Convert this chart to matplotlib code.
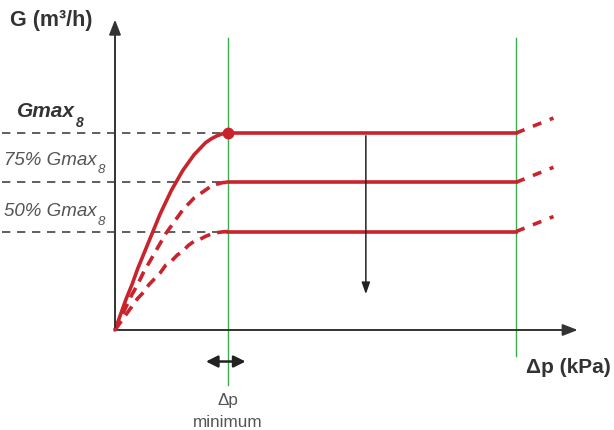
import matplotlib
matplotlib.use('Agg')
import matplotlib.pyplot as plt

plt.rcParams['font.family'] = ['Liberation Sans', 'DejaVu Sans']

# flow levels as fraction of Gmax8
levels = [1.0, 0.75, 0.5]
level_names = ['Gmax', '75% Gmax', '50% Gmax']
# x in units of dp minimum
dp_min = 1.0
dp_max = 3.55
ext_x = [3.55, 3.88]
ext_rise = 0.076

# rising parts of the curves
curve_x = [0.0, 0.05, 0.1, 0.15, 0.2, 0.25, 0.3, 0.35, 0.4, 0.45, 0.5, 0.55, 0.6,
           0.65, 0.7, 0.75, 0.8, 0.85, 0.9, 0.95, 1.0]
curve_100 = [0.0, 0.08, 0.16, 0.23, 0.31, 0.38, 0.45, 0.52, 0.59, 0.65, 0.71, 0.76, 0.81,
             0.85, 0.89, 0.92, 0.95, 0.97, 0.985, 0.996, 1.0]
curve_75 = [0.0, 0.06, 0.12, 0.18, 0.23, 0.29, 0.34, 0.39, 0.44, 0.49, 0.53, 0.57, 0.61,
            0.64, 0.67, 0.69, 0.71, 0.73, 0.74, 0.748, 0.75]
curve_50 = [0.0, 0.04, 0.08, 0.12, 0.16, 0.19, 0.23, 0.26, 0.29, 0.33, 0.35, 0.38, 0.40,
            0.43, 0.45, 0.46, 0.475, 0.487, 0.494, 0.498, 0.5]

red = '#c9232c'
green = '#3aae4f'
dark = '#333333'
grey = '#555555'

fig = plt.figure(figsize=(6.14, 4.30), dpi=100)
ax = fig.add_axes([0, 0, 1, 1])
ax.set_xlim(-115 / 113, 499 / 113)
ax.set_ylim(-100 / 197, 330 / 197)
ax.axis('off')

# axes with arrows
ax.annotate('', xy=(0, 1.59), xytext=(0, 0),
            arrowprops=dict(arrowstyle='-|>,head_length=0.9,head_width=0.35', color=dark, lw=1.4))
ax.annotate('', xy=(4.12, 0), xytext=(0, 0),
            arrowprops=dict(arrowstyle='-|>,head_length=0.9,head_width=0.35', color=dark, lw=1.4))

# green limits
ax.plot([dp_min, dp_min], [-0.28, 1.48], color=green, lw=1.0)
ax.plot([dp_max, dp_max], [-0.13, 1.48], color=green, lw=1.0)

# reference dashes
for lv in levels:
    ax.plot([-1.0, dp_min], [lv, lv], color='#444444', lw=1.2, dashes=(5, 4))

# curves
ax.plot(curve_x, curve_100, color=red, lw=2.6, solid_capstyle='round', solid_joinstyle='round')
ax.plot(curve_x, curve_75, color=red, lw=2.6, dashes=(3, 2.0))
ax.plot(curve_x, curve_50, color=red, lw=2.6, dashes=(3, 2.0))
for lv in levels:
    ax.plot([dp_min, dp_max], [lv, lv], color=red, lw=2.6)
    ax.plot(ext_x, [lv, lv + ext_rise], color=red, lw=2.6, dashes=(2.5, 2.5))
ax.plot([dp_min], [levels[0]], 'o', color=red, ms=7.5)

# arrow down
ax.annotate('', xy=(2.22, 0.168), xytext=(2.22, 1.0),
            arrowprops=dict(arrowstyle='-|>,head_length=0.7,head_width=0.25', color='#222222', lw=1.1))
# double arrow at dp minimum
ax.annotate('', xy=(0.78, -0.16), xytext=(1.18, -0.16),
            arrowprops=dict(arrowstyle='<|-|>,head_length=0.7,head_width=0.35', color='#222222', lw=1.8))

# labels
ax.text(-0.93, 1.57, 'G (m³/h)', fontsize=15.5, fontweight='bold', color=dark, va='center', ha='left')
ax.text(3.64, -0.19, 'Δp (kPa)', fontsize=15, fontweight='bold', color=dark, va='center', ha='left')
ax.text(1.0, -0.36, 'Δp', fontsize=12.3, color=grey, ha='center', va='center')
ax.text(1.0, -0.47, 'minimum', fontsize=12.3, color=grey, ha='center', va='center')

label_y = [1.11, 0.86, 0.60]
label_x = [-0.87, -0.98, -0.98]
for i, (name, lx, ly) in enumerate(zip(level_names, label_x, label_y)):
    if i == 0:
        t = ax.text(lx, ly, name, fontsize=15, fontweight='bold', style='italic', color=dark,
                    va='center', ha='left')
        ax.annotate('8', xy=(1, 0), xycoords=t, xytext=(0.5, -1.5), textcoords='offset points',
                    fontsize=10, fontweight='bold', style='italic', color=dark, va='center', ha='left')
    else:
        t = ax.text(lx, ly, name, fontsize=13.5, style='italic', color=grey, va='center', ha='left')
        ax.annotate('8', xy=(1, 0), xycoords=t, xytext=(0.5, -1.0), textcoords='offset points',
                    fontsize=9.5, style='italic', color=grey, va='center', ha='left')

fig.savefig('out.png', dpi=100)
